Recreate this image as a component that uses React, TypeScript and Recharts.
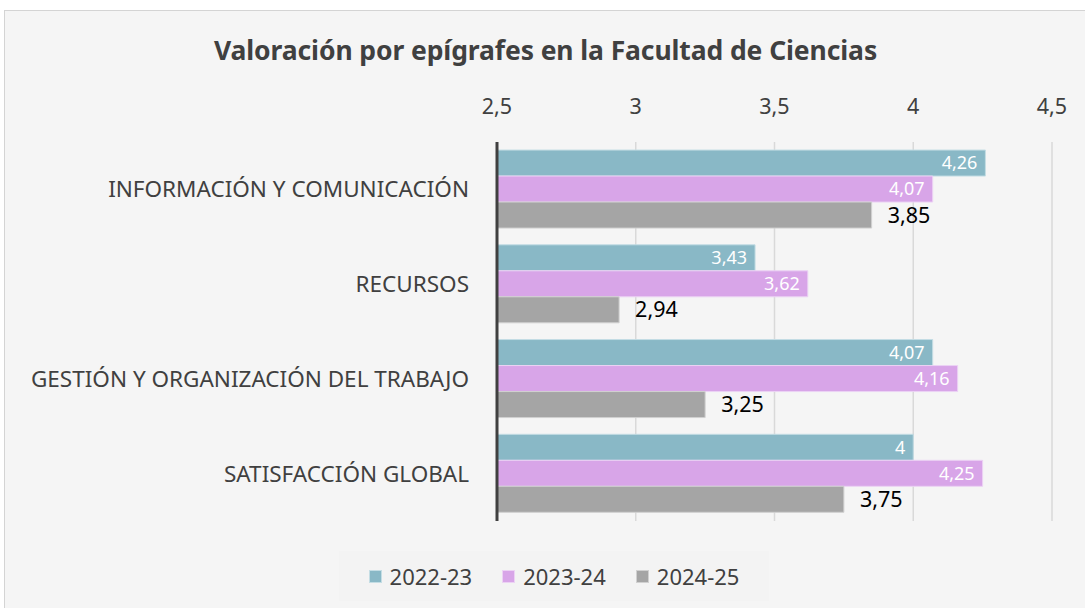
import { BarChart, Bar, XAxis, YAxis, CartesianGrid, LabelList } from 'recharts';

const categories = [
  'INFORMACIÓN Y COMUNICACIÓN',
  'RECURSOS',
  'GESTIÓN Y ORGANIZACIÓN DEL TRABAJO',
  'SATISFACCIÓN GLOBAL',
];
const values2223 = [4.26, 3.43, 4.07, 4];
const values2324 = [4.07, 3.62, 4.16, 4.25];
const values2425 = [3.85, 2.94, 3.25, 3.75];
const xTicks = [2.5, 3, 3.5, 4, 4.5];

const series = [
  { key: 's2223', name: '2022-23', fill: '#89b8c6', stroke: '#c4dde4', values: values2223 },
  { key: 's2324', name: '2023-24', fill: '#d8a5e8', stroke: '#ecd2f4', values: values2324 },
  { key: 's2425', name: '2024-25', fill: '#a5a5a5', stroke: '#d0d0d0', values: values2425 },
];

const data = categories.map((name, i) => {
  const row: Record<string, string | number> = { name };
  series.forEach((s) => {
    row[s.key] = s.values[i];
  });
  return row;
});

const FONT = '"Noto Sans", "Open Sans", sans-serif';
const fmt = (v: number | string) => String(v).replace('.', ',');

export default function App() {
  return (
    <div
      style={{
        position: 'absolute',
        left: 4,
        top: 10,
        width: 1090,
        height: 610,
        background: '#f5f5f5',
        border: '1px solid #d4d4d4',
        fontFamily: FONT,
        overflow: 'hidden',
      }}
    >
      <div
        style={{
          position: 'absolute',
          top: 21,
          left: 0,
          width: 1081,
          textAlign: 'center',
          fontSize: 26.5,
          fontWeight: 700,
          color: '#404040',
          letterSpacing: -0.1,
        }}
      >
        Valoración por epígrafes en la Facultad de Ciencias
      </div>
      <BarChart
        width={1081}
        height={598}
        data={data}
        layout="vertical"
        margin={{ top: 78, right: 34, bottom: 88, left: 0 }}
        barCategoryGap="8.5%"
        barGap={0}
      >
        <CartesianGrid horizontal={false} stroke="#d9d9d9" strokeWidth={1.5} />
        <XAxis
          type="number"
          orientation="top"
          domain={[2.5, 4.5]}
          ticks={xTicks}
          tickFormatter={fmt}
          axisLine={false}
          tickLine={false}
          height={53}
          tickMargin={22}
          tick={{ fill: '#404040', fontSize: 21.5, fontFamily: FONT }}
          allowDataOverflow
        />
        <YAxis
          type="category"
          dataKey="name"
          width={492}
          axisLine={{ stroke: '#404040', strokeWidth: 3 }}
          tickLine={false}
          tickMargin={22}
          tick={{ fill: '#404040', fontSize: 22.5, fontFamily: FONT }}
        />
        {series.map((s, idx) => (
          <Bar
            key={s.key}
            dataKey={s.key}
            name={s.name}
            fill={s.fill}
            stroke={s.stroke}
            strokeWidth={1}
            isAnimationActive={false}
          >
            <LabelList
              dataKey={s.key}
              position={idx < 2 ? 'insideRight' : 'right'}
              offset={idx < 2 ? 8 : 16}
              formatter={fmt}
              fill={idx < 2 ? '#ffffff' : '#000000'}
              fontSize={idx < 2 ? 18 : 21.5}
              fontFamily={FONT}
            />
          </Bar>
        ))}
      </BarChart>
      <div
        style={{
          position: 'absolute',
          top: 540,
          left: 334,
          width: 430,
          height: 50,
          display: 'flex',
          justifyContent: 'center',
          alignItems: 'center',
          gap: 30,
          background: '#f3f3f3',
        }}
      >
        {series.map((s) => (
          <div key={s.key} style={{ display: 'flex', alignItems: 'center', gap: 8 }}>
            <span style={{ width: 13, height: 13, background: s.fill, border: `1px solid ${s.stroke}`, boxSizing: 'border-box' }} />
            <span style={{ fontSize: 22, color: '#404040' }}>{s.name}</span>
          </div>
        ))}
      </div>
    </div>
  );
}
